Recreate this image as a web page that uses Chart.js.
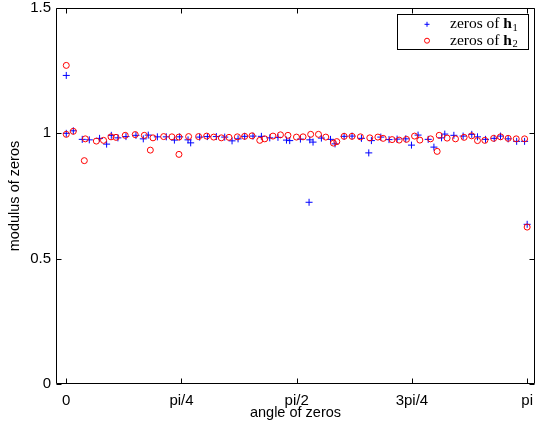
<!DOCTYPE html>
<html>
<head>
<meta charset="utf-8">
<script src="https://cdn.jsdelivr.net/npm/chart.js@4.4.1/dist/chart.umd.min.js"></script>
<style>
html,body{margin:0;padding:0;background:#fff;}
#wrap{position:relative;width:543px;height:428px;}
canvas{display:block;}
</style>
</head>
<body>
<div id="wrap"><canvas id="c" width="543" height="428"></canvas></div>
<script>
// ---- data ----
const h1Angle = [0, 0, 0.048, 0.109, 0.157, 0.227, 0.275, 0.307, 0.352, 0.407, 0.475, 0.525, 0.559, 0.621, 0.682, 0.737, 0.773, 0.83, 0.848, 0.909, 0.962, 1.023, 1.08, 1.13, 1.171, 1.216, 1.273, 1.33, 1.387, 1.443, 1.501, 1.523, 1.596, 1.655, 1.66, 1.682, 1.739, 1.801, 1.832, 1.894, 1.948, 2.012, 2.062, 2.08, 2.144, 2.2, 2.255, 2.314, 2.353, 2.398, 2.467, 2.506, 2.558, 2.58, 2.642, 2.705, 2.764, 2.803, 2.858, 2.917, 2.96, 3.012, 3.07, 3.124, 3.1416];
const h1Modulus = [1.231, 1.0, 1.01, 0.976, 0.974, 0.98, 0.957, 0.992, 0.982, 0.987, 0.992, 0.978, 0.993, 0.986, 0.986, 0.973, 0.986, 0.974, 0.962, 0.985, 0.987, 0.987, 0.985, 0.970, 0.978, 0.988, 0.989, 0.988, 0.982, 0.984, 0.973, 0.971, 0.977, 0.725, 0.974, 0.965, 0.981, 0.976, 0.958, 0.988, 0.989, 0.980, 0.922, 0.971, 0.985, 0.975, 0.977, 0.978, 0.953, 0.993, 0.976, 0.945, 0.982, 0.997, 0.992, 0.989, 0.996, 0.986, 0.976, 0.98, 0.989, 0.978, 0.968, 0.968, 0.637];
const h2Angle = [0, 0, 0.048, 0.123, 0.13, 0.205, 0.254, 0.305, 0.339, 0.402, 0.47, 0.532, 0.573, 0.591, 0.664, 0.72, 0.768, 0.768, 0.834, 0.902, 0.957, 1.005, 1.057, 1.109, 1.166, 1.216, 1.266, 1.319, 1.353, 1.409, 1.46, 1.511, 1.569, 1.614, 1.666, 1.719, 1.769, 1.821, 1.844, 1.894, 1.948, 2.005, 2.069, 2.124, 2.16, 2.221, 2.269, 2.319, 2.374, 2.41, 2.483, 2.528, 2.542, 2.596, 2.653, 2.712, 2.763, 2.803, 2.853, 2.913, 2.96, 3.012, 3.067, 3.124, 3.1416];
const h2Modulus = [1.271, 0.996, 1.008, 0.891, 0.978, 0.969, 0.972, 0.986, 0.984, 0.992, 0.995, 0.992, 0.933, 0.982, 0.987, 0.986, 0.916, 0.985, 0.987, 0.987, 0.989, 0.985, 0.982, 0.984, 0.986, 0.988, 0.99, 0.972, 0.978, 0.989, 0.994, 0.992, 0.985, 0.986, 0.996, 0.996, 0.985, 0.961, 0.967, 0.988, 0.988, 0.986, 0.982, 0.985, 0.98, 0.975, 0.973, 0.976, 0.989, 0.973, 0.978, 0.928, 0.992, 0.981, 0.978, 0.984, 0.990, 0.971, 0.972, 0.980, 0.986, 0.980, 0.978, 0.978, 0.626];
const xTickValues = [0, Math.PI/4, Math.PI/2, 3*Math.PI/4, Math.PI];
const xTickLabels = ['0', 'pi/4', 'pi/2', '3pi/4', 'pi'];
const yTickValues = [0, 0.5, 1, 1.5];
const yTickLabels = ['0', '0.5', '1', '1.5'];
const legendLabels = [
  {pre: 'zeros of ', bold: 'h', sub: '1', color: '#0000ff', style: 'cross'},
  {pre: 'zeros of ', bold: 'h', sub: '2', color: '#ff0000', style: 'circle'}
];

const toPts = (xs, ys) => xs.map((x, i) => ({x: x, y: ys[i]}));

const framePlugin = {
  id: 'frame',
  afterDatasetsDraw(chart) {
    const {ctx, chartArea: a, scales} = chart;
    ctx.save();
    ctx.strokeStyle = '#000';
    ctx.lineWidth = 1;
    const L = Math.round(a.left) + 0.5, R = Math.round(a.right) - 0.5;
    const T = Math.round(a.top) + 0.5, B = Math.round(a.bottom) - 0.5;
    ctx.beginPath();
    ctx.rect(L, T, R - L, B - T);
    ctx.stroke();
    const tl = 5;
    ctx.beginPath();
    xTickValues.forEach(v => {
      const px = Math.round(scales.x.getPixelForValue(v)) + 0.5;
      ctx.moveTo(px, B); ctx.lineTo(px, B - tl);
      ctx.moveTo(px, T); ctx.lineTo(px, T + tl);
    });
    yTickValues.forEach(v => {
      const py = Math.round(scales.y.getPixelForValue(v)) + 0.5;
      ctx.moveTo(L, py); ctx.lineTo(L + tl, py);
      ctx.moveTo(R, py); ctx.lineTo(R - tl, py);
    });
    ctx.stroke();
    // legend
    const bx = 397.5, by = 14.5, bw = 131, bh = 35;
    ctx.fillStyle = '#fff';
    ctx.fillRect(bx, by, bw, bh);
    ctx.strokeRect(bx, by, bw, bh);
    legendLabels.forEach((it, i) => {
      const cy = 24.3 + i * 16.4;
      ctx.strokeStyle = it.color;
      ctx.fillStyle = 'rgba(0,0,0,0)';
      ctx.lineWidth = 1;
      Chart.helpers.drawPoint(ctx, {pointStyle: it.style, radius: 2.5, borderWidth: 1}, 427, cy);
      ctx.fillStyle = '#000';
      ctx.textBaseline = 'middle';
      ctx.textAlign = 'left';
      let x = 450;
      ctx.font = '15.5px "Liberation Serif", "DejaVu Serif", serif';
      ctx.fillText(it.pre, x, cy);
      x += ctx.measureText(it.pre).width;
      ctx.font = 'bold 15.5px "Liberation Serif", "DejaVu Serif", serif';
      ctx.fillText(it.bold, x, cy);
      x += ctx.measureText(it.bold).width;
      ctx.font = '10.5px "Liberation Serif", "DejaVu Serif", serif';
      ctx.fillText(it.sub, x + 0.5, cy + 3.5);
    });
    ctx.restore();
  }
};

const tickFont = {family: '"Liberation Sans", Arial, sans-serif', size: 15};
const titleFont = {family: '"Liberation Sans", Arial, sans-serif', size: 14.5};

new Chart(document.getElementById('c'), {
  type: 'scatter',
  data: {
    datasets: [
      {label: 'zeros of h1', data: toPts(h1Angle, h1Modulus), pointStyle: 'cross', pointRadius: 3.5, pointBorderWidth: 1, borderColor: '#0000ff', backgroundColor: '#0000ff', order: 2},
      {label: 'zeros of h2', data: toPts(h2Angle, h2Modulus), pointStyle: 'circle', pointRadius: 3, pointBorderWidth: 1, borderColor: '#ff0000', backgroundColor: 'rgba(0,0,0,0)', order: 1}
    ]
  },
  options: {
    responsive: false,
    animation: false,
    devicePixelRatio: 1,
    layout: {padding: {top: 8, right: 8, left: 0, bottom: 0}},
    plugins: {legend: {display: false}, tooltip: {enabled: false}},
    scales: {
      x: {
        type: 'linear', min: -0.07, max: 3.195,
        grid: {display: false, drawTicks: false},
        border: {display: false},
        afterBuildTicks: s => { s.ticks = xTickValues.map(v => ({value: v})); },
        afterFit: s => { s.height = 44; s.paddingLeft = 0; s.paddingRight = 0; },
        ticks: {color: '#000', font: tickFont, padding: 8, maxRotation: 0, autoSkip: false,
          callback: (v) => { const i = xTickValues.findIndex(t => Math.abs(t - v) < 1e-9); return i >= 0 ? xTickLabels[i] : ''; }},
        title: {display: true, text: 'angle of zeros', color: '#000', font: titleFont, padding: {top: 0, bottom: 6}}
      },
      y: {
        type: 'linear', min: 0, max: 1.5,
        grid: {display: false, drawTicks: false},
        border: {display: false},
        afterBuildTicks: s => { s.ticks = yTickValues.map(v => ({value: v})); },
        afterFit: s => { s.width = 56; s.paddingTop = 0; s.paddingBottom = 0; },
        ticks: {color: '#000', font: tickFont, padding: 5, autoSkip: false,
          callback: (v) => { const i = yTickValues.findIndex(t => Math.abs(t - v) < 1e-9); return i >= 0 ? yTickLabels[i] : ''; }},
        title: {display: true, text: 'modulus of zeros', color: '#000', font: titleFont, padding: {top: 6, bottom: 0}}
      }
    }
  },
  plugins: [framePlugin]
});
</script>
</body>
</html>
